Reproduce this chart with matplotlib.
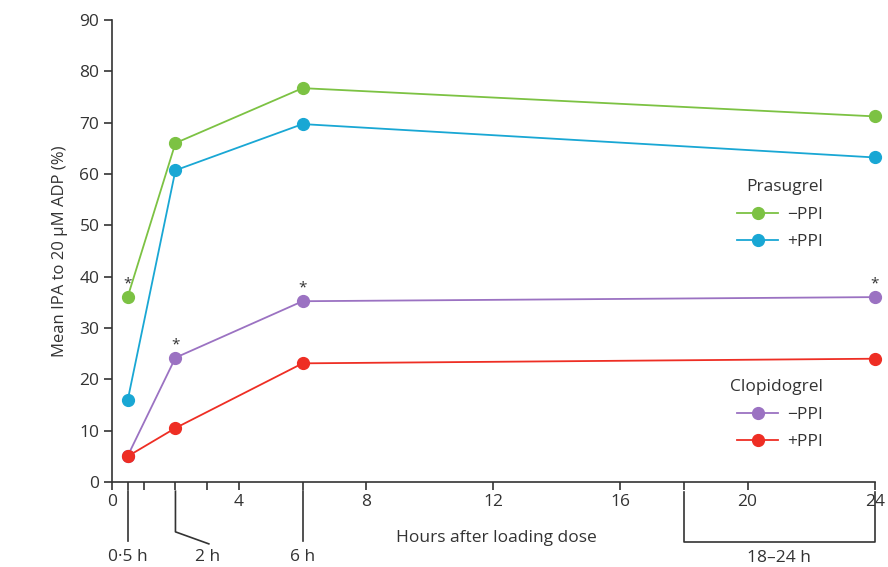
import matplotlib
matplotlib.use("Agg")
import matplotlib.pyplot as plt
from matplotlib.lines import Line2D

plt.rcParams['font.family'] = ['Open Sans', 'DejaVu Sans']

# sampling times (hours after loading dose)
hours = [0.5, 2, 6, 24]

# mean IPA (%)
pras_no_ppi = [36.1, 66.0, 76.7, 71.2]
pras_ppi = [16.0, 60.7, 69.7, 63.2]
clop_no_ppi = [5.1, 24.2, 35.2, 36.0]
clop_ppi = [5.0, 10.5, 23.1, 24.0]

# points flagged with an asterisk (series, index)
stars = [("pras_no_ppi", 0), ("clop_no_ppi", 1), ("clop_no_ppi", 2), ("clop_no_ppi", 3)]

x_ticks = [0, 0.5, 1, 2, 3, 4, 6, 8, 12, 16, 18, 20, 24]
x_labels = ["0", "", "", "", "", "4", "", "8", "12", "16", "", "20", "24"]
y_ticks = list(range(0, 91, 10))

green = "#7cc243"
blue = "#19a7d4"
purple = "#9b72c2"
red = "#ee2e24"
grey = "#333333"
fs = 12.5

fig = plt.figure(figsize=(8.88, 5.67), dpi=100)
ax = fig.add_axes([0.126, 0.15, 0.859, 0.815])

series = {
    "pras_no_ppi": (pras_no_ppi, green),
    "pras_ppi": (pras_ppi, blue),
    "clop_no_ppi": (clop_no_ppi, purple),
    "clop_ppi": (clop_ppi, red),
}
for key, (vals, col) in series.items():
    ax.plot(hours, vals, color=col, lw=1.3, marker="o", ms=8.5, clip_on=False, zorder=3)

for key, i in stars:
    vals = series[key][0]
    ax.annotate("*", (hours[i], vals[i]), xytext=(0, 4), textcoords="offset points",
                ha="center", va="bottom", fontsize=11, color=grey)

ax.set_xlim(0, 24)
ax.set_ylim(0, 90)
ax.set_xticks(x_ticks)
ax.set_xticklabels(x_labels)
ax.set_yticks(y_ticks)
ax.tick_params(direction="out", length=6, width=1.2, labelsize=fs, colors=grey, pad=3)
for s in ["top", "right"]:
    ax.spines[s].set_visible(False)
for s in ["left", "bottom"]:
    ax.spines[s].set_linewidth(1.2)
    ax.spines[s].set_color(grey)

ax.set_ylabel("Mean IPA to 20 μM ADP (%)", fontsize=12, color=grey, labelpad=8)

# timepoint markers under the x axis
tr = ax.get_xaxis_transform()
kw = dict(transform=tr, color=grey, lw=1.2, clip_on=False)
ax.plot([0.5, 0.5], [-0.02, -0.128], **kw)
ax.plot([2, 2, 3.05], [-0.02, -0.108, -0.134], **kw)
ax.plot([6, 6], [-0.02, -0.128], **kw)
ax.plot([18, 18, 24, 24], [-0.022, -0.13, -0.13, -0.022], **kw)
tk = dict(transform=tr, ha="center", va="center", fontsize=fs, color=grey)
ax.text(0.5, -0.162, "0·5 h", **tk)
ax.text(3.0, -0.162, "2 h", **tk)
ax.text(6, -0.162, "6 h", **tk)
ax.text(21, -0.164, "18–24 h", **tk)
ax.text(12.1, -0.121, "Hours after loading dose", **tk)

# two legends
def legend_block(labels_cols, title, anchor):
    handles = [Line2D([], [], color=c, lw=1.3, marker="o", ms=8.5) for _, c in labels_cols]
    leg = ax.legend(handles, [l for l, _ in labels_cols], title=title, loc="upper right",
                    bbox_to_anchor=anchor, frameon=False, fontsize=fs, title_fontsize=fs,
                    handlelength=2.4, handletextpad=0.5, labelspacing=0.65,
                    alignment="right", borderaxespad=0, borderpad=0)
    leg._legend_handle_box.sep = 6
    for t in leg.get_texts():
        t.set_color(grey)
    leg.get_title().set_color(grey)
    return leg

leg1 = legend_block([("−PPI", green), ("+PPI", blue)], "Prasugrel", (0.932, 0.655))
ax.add_artist(leg1)
legend_block([("−PPI", purple), ("+PPI", red)], "Clopidogrel", (0.932, 0.222))

fig.savefig("out.png", dpi=100)
